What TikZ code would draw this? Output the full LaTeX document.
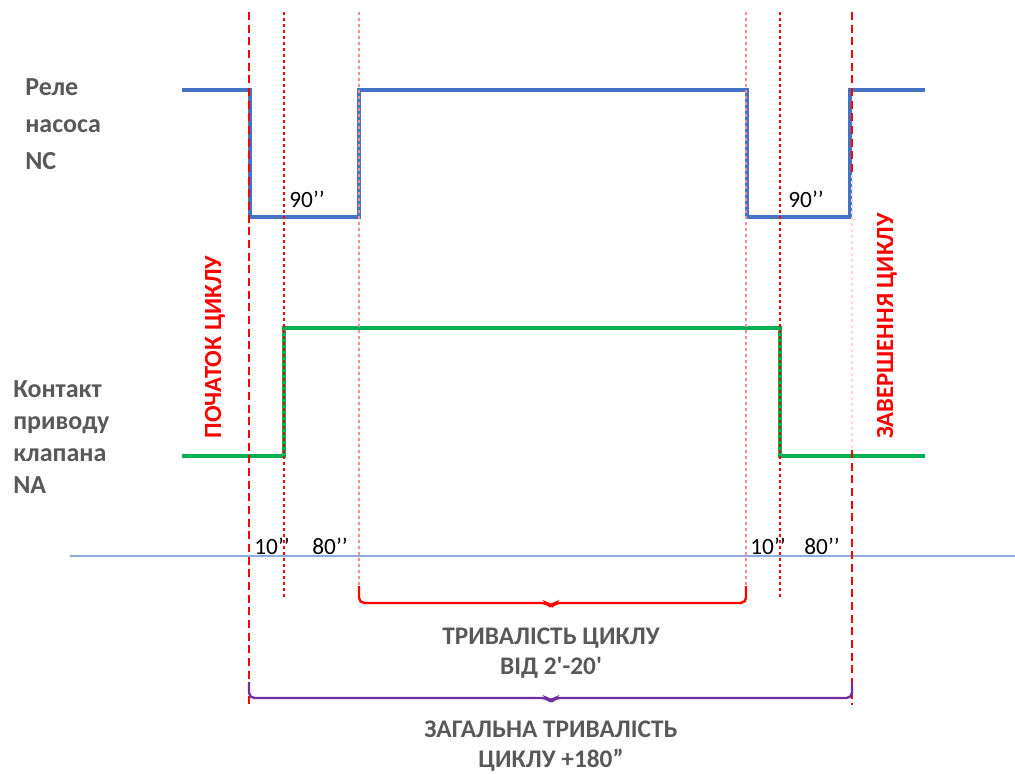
\documentclass[tikz,border=0pt]{standalone}
\usepackage{fontspec}
\setmainfont{Carlito}
\definecolor{wblue}{HTML}{4472C4}
\definecolor{wgreen}{HTML}{00B050}
\definecolor{tgray}{HTML}{595959}
\definecolor{wpurple}{HTML}{7030A0}
\definecolor{axisblue}{HTML}{8FAADC}
\definecolor{pink}{HTML}{FF8C8C}
\tikzset{
  bigdash/.style={draw=red, line width=2pt, dash pattern=on 6pt off 3.5pt},
  reddot/.style={draw=red, line width=0.9pt, dash pattern=on 2.5pt off 2pt},
  pinkdot/.style={draw=pink, line width=1pt, dash pattern=on 2.5pt off 2pt},
  bluewave/.style={draw=wblue, line width=3pt},
  greenwave/.style={draw=wgreen, line width=3.6pt},
  lbl/.style={font=\fontsize{19.5}{24}\selectfont\bfseries, text=tgray, align=left, anchor=west, inner sep=0pt},
  vlbl/.style={font=\fontsize{18.5}{22}\selectfont\bfseries, text=red, rotate=90, inner sep=0pt},
  tval/.style={font=\fontsize{17.5}{22}\selectfont, text=black, inner sep=0pt},
  blbl/.style={font=\fontsize{19}{23}\selectfont\bfseries, text=tgray, align=center, inner sep=0pt},
}
\begin{document}
\begin{tikzpicture}[x=0.75pt,y=-0.75pt]
\useasboundingbox (0,0) rectangle (1015,774);
% waveforms
\draw[bluewave] (182,90) -- (250,90) -- (250,217) -- (359,217) -- (359,90) -- (747,90) -- (747,217) -- (850,217) -- (850,90) -- (925,90);
\draw[greenwave] (182,456) -- (284,456) -- (284,328) -- (780,328) -- (780,456) -- (925,456);
% axis
\draw[axisblue, line width=0.8pt] (70,556) -- (1015,556);
% vertical guides
\coordinate (s1) at (249,12); \coordinate (s2) at (249,705);
\draw[bigdash] (s1) -- (s2);
\coordinate (e1) at (852,12); \coordinate (e2) at (852,175);
\coordinate (e3) at (852,450); \coordinate (e4) at (852,705);
\draw[bigdash] (e1) -- (e2);
\draw[draw=red!15, line width=0.8pt, dash pattern=on 2.5pt off 2pt] (e2) -- (e3);
\draw[bigdash] (e3) -- (e4);
\coordinate (d1) at (284,12); \coordinate (d2) at (284,598);
\draw[reddot] (d1) -- (d2);
\coordinate (d3) at (780,12); \coordinate (d4) at (780,598);
\draw[reddot] (d3) -- (d4);
\coordinate (p1) at (359,12); \coordinate (p2) at (359,588);
\draw[pinkdot] (p1) -- (p2);
\coordinate (p3) at (746,12); \coordinate (p4) at (746,588);
\draw[pinkdot] (p3) -- (p4);
% braces
\draw[red, line width=1.8pt, rounded corners=4pt] (359,586) -- (359,603) -- (547,603) -- (551,607) -- (555,603) -- (746,603) -- (746,586);
\draw[wpurple, line width=1.8pt, rounded corners=4pt] (249,682) -- (249,698) -- (547,698) -- (551,702) -- (555,698) -- (852,698) -- (852,682);
% timing labels
\node[tval] (t90a) at (307,199) {90’’};
\node[tval] (t90b) at (806,199) {90’’};
\node[tval] (t10a) at (272,546) {10’’};
\node[tval] (t80a) at (330,546) {80’’};
\node[tval] (t10b) at (768,546) {10’’};
\node[tval] (t80b) at (822,546) {80’’};
% left labels
\node[lbl, font=\fontsize{19.5}{28}\selectfont\bfseries] (rele) at (25,124) {Реле\\насоса\\NC};
\node[lbl] (kont) at (13,437) {Контакт\\приводу\\клапана\\NA};
% vertical labels
\node[vlbl] (start) at (215,347) {ПОЧАТОК ЦИКЛУ};
\node[vlbl] (end) at (887,326) {ЗАВЕРШЕННЯ ЦИКЛУ};
% bottom labels
\node[blbl] (dur) at (551,653) {ТРИВАЛІСТЬ ЦИКЛУ\\ВІД 2\textquotesingle-20\textquotesingle};
\node[blbl] (tot) at (551,746) {ЗАГАЛЬНА ТРИВАЛІСТЬ\\ЦИКЛУ +180”};
\end{tikzpicture}
\end{document}
